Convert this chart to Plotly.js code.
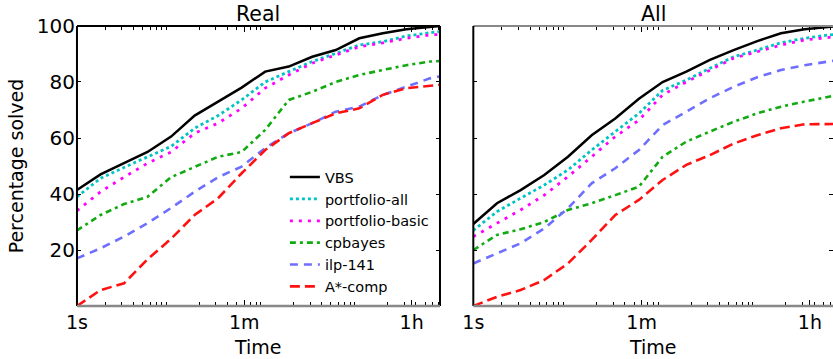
<!DOCTYPE html>
<html>
<head>
<meta charset="utf-8">
<script src="https://cdn.plot.ly/plotly-3.0.1.min.js"></script>
<style>html,body{margin:0;padding:0;background:#fff;}#chart{width:833px;height:359px;}</style>
</head>
<body>
<div id="chart"></div>
<script>
// Time in seconds (log axis)
const timeSec = [1, 1.78, 3.16, 5.62, 10, 17.8, 31.6, 56.2, 100, 178, 316, 562, 1000, 1778, 3162, 5623, 7200];

const seriesNames = ["VBS", "portfolio-all", "portfolio-basic", "cpbayes", "ilp-141", "A*-comp"];

// Percentage solved — "Real"
const realVBS       = [41.4, 47.0, 51.0, 55.0, 60.5, 68.0, 73.0, 78.0, 83.7, 85.5, 89.0, 91.4, 95.6, 97.4, 98.8, 99.8, 100];
const realPortAll   = [39.0, 45.6, 49.5, 53.3, 57.0, 63.5, 68.0, 73.6, 80.0, 83.7, 87.3, 90.2, 93.2, 94.4, 96.4, 97.6, 98.0];
const realPortBasic = [34.0, 40.8, 46.0, 51.0, 55.0, 61.7, 65.3, 70.6, 77.8, 82.5, 86.7, 89.6, 92.6, 94.0, 95.6, 96.8, 97.0];
const realCpbayes   = [27.0, 32.5, 36.4, 39.0, 46.0, 49.8, 53.3, 55.0, 62.9, 73.6, 76.5, 80.0, 82.5, 84.3, 86.0, 87.3, 87.5];
const realIlp       = [17.0, 20.6, 24.8, 29.6, 35.0, 40.8, 46.0, 49.8, 56.4, 61.7, 65.3, 69.4, 71.2, 75.4, 78.3, 81.3, 82.0];
const realAstar     = [0.0, 5.7, 8.1, 16.7, 24.0, 32.5, 38.5, 47.4, 55.7, 61.7, 65.3, 68.8, 70.6, 75.4, 77.8, 78.6, 79.0];

// Percentage solved — "All"
const allVBS       = [29.3, 36.7, 41.4, 46.8, 53.3, 61.0, 67.0, 74.0, 80.0, 83.7, 87.9, 91.4, 94.6, 97.4, 98.8, 99.8, 100];
const allPortAll   = [27.0, 33.7, 38.5, 43.2, 48.6, 55.7, 62.3, 68.8, 77.0, 80.7, 84.9, 89.0, 91.4, 94.0, 95.6, 96.8, 97.0];
const allPortBasic = [24.8, 29.5, 34.3, 39.6, 46.2, 53.3, 60.5, 66.4, 75.4, 80.0, 84.3, 88.5, 90.8, 93.2, 95.0, 96.0, 96.3];
const allCpbayes   = [20.0, 25.4, 27.4, 30.0, 34.3, 36.7, 39.6, 42.6, 53.3, 58.7, 62.3, 65.8, 68.8, 71.2, 73.0, 74.8, 75.4];
const allIlp       = [15.2, 18.8, 22.4, 27.7, 34.9, 43.8, 49.2, 55.7, 64.6, 69.4, 74.2, 78.3, 81.7, 84.3, 86.0, 87.3, 87.8];
const allAstar     = [0.0, 3.3, 5.7, 9.3, 15.2, 23.6, 32.5, 37.9, 45.0, 50.4, 53.9, 58.0, 61.0, 63.5, 64.9, 65.0, 65.0];

const xTickVals = [1, 60, 3600];
const xTickText = ["1s", "1m", "1h"];
const yTickVals = [20, 40, 60, 80, 100];
const minorVals = [2,3,4,5,6,7,8,9,20,30,40,50,60,70,80,90,200,300,400,500,600,700,800,900,2000,3000,4000,5000,6000,7000];

const styles = [
  {color: "#000000", dash: "solid", width: 2.5},
  {color: "#00c4c4", dash: "dot", width: 2.8},
  {color: "#ff00ff", dash: "3px,6px", width: 2.8},
  {color: "#11aa11", dash: "6px,4px,3px,4px", width: 2.6},
  {color: "#6f6fff", dash: "8px,6px", width: 2.6},
  {color: "#ff1111", dash: "10px,5px", width: 2.6}
];

const realSeries = [realVBS, realPortAll, realPortBasic, realCpbayes, realIlp, realAstar];
const allSeries  = [allVBS, allPortAll, allPortBasic, allCpbayes, allIlp, allAstar];

const traces = [];
realSeries.forEach((ys, i) => {
  traces.push({x: timeSec, y: ys, xaxis: "x", yaxis: "y", type: "scatter", mode: "lines",
    name: seriesNames[i], line: {color: styles[i].color, dash: styles[i].dash, width: styles[i].width},
    showlegend: true});
});
allSeries.forEach((ys, i) => {
  traces.push({x: timeSec, y: ys, xaxis: "x2", yaxis: "y2", type: "scatter", mode: "lines",
    name: seriesNames[i], line: {color: styles[i].color, dash: styles[i].dash, width: styles[i].width},
    showlegend: false});
});

const fontFam = "DejaVu Sans, sans-serif";
const xBase = {
  type: "log", tickmode: "array", tickvals: xTickVals, ticktext: xTickText,
  ticks: "inside", ticklen: 6, tickwidth: 1, tickcolor: "#000", mirror: "allticks",
  showline: false, showgrid: false, zeroline: false, ticklabelstandoff: 3,
  tickfont: {family: fontFam, size: 19, color: "#000"},
  minor: {tickmode: "array", tickvals: minorVals, ticks: "inside", ticklen: 4, tickwidth: 1, tickcolor: "#000", showgrid: false}
};
const yBase = {
  range: [0, 100], tickmode: "array", tickvals: yTickVals,
  ticks: "inside", ticklen: 4, tickwidth: 1, tickcolor: "#000", mirror: "allticks",
  showline: false, showgrid: false, zeroline: false, ticklabelstandoff: 1,
  tickfont: {family: fontFam, size: 20, color: "#000"}
};

function border(xr, yr, side, color, w) {
  const s = {type: "line", xref: xr, yref: yr, line: {color: color, width: w}, layer: "above"};
  if (side === "top") Object.assign(s, {x0: 0, x1: 1, y0: 1, y1: 1});
  if (side === "bottom") Object.assign(s, {x0: 0, x1: 1, y0: 0, y1: 0});
  if (side === "left") Object.assign(s, {x0: 0, x1: 0, y0: 0, y1: 1});
  if (side === "right") Object.assign(s, {x0: 1, x1: 1, y0: 0, y1: 1});
  return s;
}

const titleFont = {family: fontFam, size: 20.5, color: "#000"};
const axisTitleFont = {family: fontFam, size: 19, color: "#000"};

const layout = {
  width: 833, height: 359,
  margin: {l: 0, r: 0, t: 0, b: 0},
  paper_bgcolor: "#fff", plot_bgcolor: "#fff",
  font: {family: fontFam, color: "#000"},
  xaxis: Object.assign({}, xBase, {domain: [0.0924, 0.5282], range: [0, Math.log10(7200)], anchor: "y"}),
  yaxis: Object.assign({}, yBase, {domain: [0.1476, 0.9276], anchor: "x",
    title: {text: "Percentage solved", font: {family: fontFam, size: 19, color: "#000"}, standoff: 8}}),
  xaxis2: Object.assign({}, xBase, {domain: [0.5682, 1.0], range: [0, 3.80], anchor: "y2"}),
  yaxis2: Object.assign({}, yBase, {domain: [0.1476, 0.9276], anchor: "x2", showticklabels: false}),
  showlegend: true,
  legend: {x: 0.342, y: 0.551, xanchor: "left", yanchor: "top", bgcolor: "rgba(0,0,0,0)",
    font: {family: fontFam, size: 14.5, color: "#000"}, itemwidth: 30, tracegroupgap: 0},
  annotations: [
    {text: "Real", xref: "x domain", yref: "paper", x: 0.5, y: 1 - 14/359, xanchor: "center", yanchor: "middle",
     showarrow: false, font: titleFont},
    {text: "All", xref: "x2 domain", yref: "paper", x: 0.5, y: 1 - 14/359, xanchor: "center", yanchor: "middle",
     showarrow: false, font: titleFont},
    {text: "Time", xref: "x domain", yref: "paper", x: 0.5, y: 0, xanchor: "center", yanchor: "bottom",
     showarrow: false, font: axisTitleFont, borderpad: 0},
    {text: "Time", xref: "x2 domain", yref: "paper", x: 0.5, y: 0, xanchor: "center", yanchor: "bottom",
     showarrow: false, font: axisTitleFont, borderpad: 0}
  ],
  shapes: [
    border("x domain", "y domain", "top", "#000", 2),
    border("x domain", "y domain", "left", "#000", 2),
    border("x domain", "y domain", "right", "#000", 2),
    border("x domain", "y domain", "bottom", "#888", 2.5),
    border("x2 domain", "y2 domain", "top", "#888", 2),
    border("x2 domain", "y2 domain", "left", "#000", 2),
    border("x2 domain", "y2 domain", "bottom", "#888", 2.5)
  ]
};

Plotly.newPlot("chart", traces, layout, {staticPlot: true, displayModeBar: false});
</script>
</body>
</html>
